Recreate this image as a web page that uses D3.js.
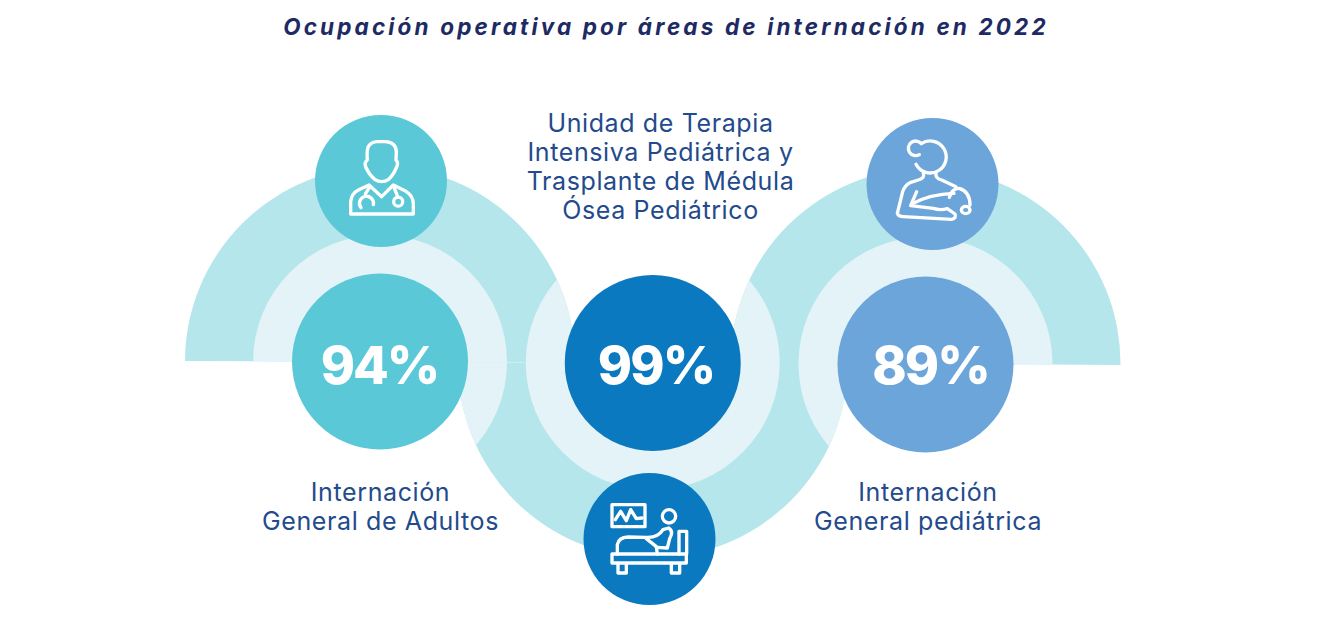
<!DOCTYPE html>
<html lang="es">
<head>
<meta charset="utf-8">
<script src="https://cdn.jsdelivr.net/npm/d3@7"></script>
<style>
    html, body { margin: 0; background: #fff; }
    svg { display: block; }
    text { font-family: Inter, "Open Sans", sans-serif; }
</style>
</head>
<body>
<div id="container"></div>
<script>
const titleText = "Ocupación operativa por áreas de internación en 2022";
const areas = ["adultos", "pediatricaUti", "pediatrica"];
const occupancy = [94, 99, 89];
const labelLines = [
    ["Internación", "General de Adultos"],
    ["Unidad de Terapia", "Intensiva Pediátrica y", "Trasplante de Médula", "Ósea Pediátrico"],
    ["Internación", "General pediátrica"]
];
const areaColors = ["#5bc8d8", "#0b79bf", "#6ba5da"];

const w = 1332;
const h = 630;
const discR = 88;
const iconR = 66;
const paleR = 127;
const bandR = 195;
const tilt = 0.3 * Math.PI / 180; // the side bands sit very slightly rotated

const xScale = d3.scalePoint().domain(areas).range([380, 925.5]);
const yScale = d3.scaleOrdinal().domain(areas).range([361.5, 363, 364.5]);
const bandY = d3.scaleOrdinal().domain(areas).range([361.9, 362.8, 363.9]);
const iconX = d3.scaleOrdinal().domain(areas).range([381, 649.5, 932.5]);
const iconY = d3.scaleOrdinal().domain(areas).range([181, 539, 184]);
const labelX = d3.scaleOrdinal().domain(areas).range([380.5, 660.5, 928]);
const labelY = d3.scaleOrdinal().domain(areas).range([501, 132, 500.5]);
const valueX = d3.scaleOrdinal().domain(areas).range([379.5, 656, 930.5]);
const colorScale = d3.scaleOrdinal().domain(areas).range(areaColors);

// icons are traced at 3x around the disc centre
const icons = {
    adultos: {cx: 213, cy: 213, paths: [
        "M174 112Q182 95 202 95L226 95Q258 97 259 125L258 150Q266 158 260 171Q250 195 236 208Q215 222 194 208Q176 192 167 171Q162 158 172 150Q170 125 174 112Z",
        "M177 225L215 260L250 225L288 244Q310 258 310 282L310 312L122 312L122 275Q125 250 145 240Z",
        "M178 232L166 252M153 293A21 21 0 1 1 190 284",
        "M252 232L264 262M278 275A13.5 13.5 0 1 1 251 275A13.5 13.5 0 1 1 278 275Z"
    ]},
    pediatricaUti: {cx: 214.5, cy: 213, paths: [
        "M102 110H201V176H102Z",
        "M112 155L128 130L145 158L158 125L175 152L192 150",
        "M293 145A20 20 0 1 1 253 145A20 20 0 1 1 293 145Z",
        "M102 258H325V285H102Z",
        "M120 287V315H145V287M280 287V315H305V287",
        "M303 258V190H326V258",
        "M118 258V230Q122 208 150 207L205 208Q240 210 255 185L272 180Q288 190 275 212L268 240L235 238L238 258",
        "M205 212L235 236"
    ]},
    pediatrica: {cx: 217.5, cy: 222, paths: [
        "M178 134A22 22 0 1 1 184 101A48 48 0 1 1 168 163",
        "M190 190Q195 205 175 210L150 218Q135 225 128 245L112 310Q115 320 130 320L275 328Q290 325 285 312L262 296Q240 302 220 295L152 287L170 245",
        "M228 190Q225 205 245 210L288 230",
        "M155 282Q210 252 282 250",
        "M268 262Q275 235 298 235Q330 245 330 285",
        "M330 300A13 11 0 1 1 304 300A13 11 0 1 1 330 300Z"
    ]}
};

const svg = d3.select("#container")
    .append("svg")
    .attr("width", w)
    .attr("height", h);

const halfBand = d3.arc().innerRadius(0).outerRadius(bandR);
const pathFor = (a, i) => halfBand({
    startAngle: i == 1 ? Math.PI / 2 : -Math.PI / 2 + tilt,
    endAngle: i == 1 ? Math.PI * 1.5 : Math.PI / 2 + tilt
});

svg.append("defs")
    .append("clipPath")
    .attr("id", "bands")
    .selectAll("path")
    .data(areas)
    .enter()
    .append("path")
    .attr("d", pathFor)
    .attr("transform", (a) => "translate(" + xScale(a) + "," + bandY(a) + ")");

svg.append("g")
    .selectAll("path")
    .data(areas)
    .enter()
    .append("path")
    .attr("d", pathFor)
    .attr("transform", (a) => "translate(" + xScale(a) + "," + bandY(a) + ")")
    .attr("fill", "#b5e6eb");

// the pale rings also show where they cross a neighbour's band
svg.append("g")
    .attr("clip-path", "url(#bands)")
    .selectAll("circle")
    .data(areas)
    .enter()
    .append("circle")
    .attr("cx", (a) => xScale(a))
    .attr("cy", (a) => bandY(a))
    .attr("r", paleR)
    .attr("fill", "#e3f3f7");

svg.append("g")
    .selectAll("circle")
    .data(areas)
    .enter()
    .append("circle")
    .attr("cx", (a) => xScale(a))
    .attr("cy", (a) => yScale(a))
    .attr("r", discR)
    .attr("fill", (a) => colorScale(a));

const iconGroups = svg.append("g")
    .selectAll("g")
    .data(areas)
    .enter()
    .append("g");

iconGroups.append("circle")
    .attr("cx", (a) => iconX(a))
    .attr("cy", (a) => iconY(a))
    .attr("r", iconR)
    .attr("fill", (a) => colorScale(a));

iconGroups.append("g")
    .attr("transform", (a) => "translate(" + (iconX(a) - icons[a].cx / 3) + "," + (iconY(a) - icons[a].cy / 3) + ") scale(" + (1 / 3) + ")")
    .attr("fill", "none")
    .attr("stroke", "#fff")
    .attr("stroke-width", 10)
    .attr("stroke-linecap", "round")
    .attr("stroke-linejoin", "round")
    .selectAll("path")
    .data((a) => icons[a].paths)
    .enter()
    .append("path")
    .attr("d", (d) => d);

svg.append("g")
    .selectAll("text")
    .data(areas)
    .enter()
    .append("text")
    .attr("x", (a) => valueX(a))
    .attr("y", 384)
    .attr("text-anchor", "middle")
    .attr("fill", "#fff")
    .attr("font-size", 52)
    .attr("font-weight", 800)
    .attr("letter-spacing", -2)
    .text((a, i) => occupancy[i] + "%");

const labels = svg.append("g")
    .selectAll("text")
    .data(areas)
    .enter()
    .append("text")
    .attr("text-anchor", "middle")
    .attr("fill", "#234a8c")
    .attr("font-size", 25)
    .attr("font-weight", 400)
    .attr("letter-spacing", 0.62);

labels.selectAll("tspan")
    .data((a, i) => labelLines[i].map((line) => ({a: a, line: line})))
    .enter()
    .append("tspan")
    .attr("x", (d) => labelX(d.a))
    .attr("y", (d, i) => labelY(d.a) + i * 29)
    .text((d) => d.line);

svg.append("text")
    .attr("x", 666)
    .attr("y", 35)
    .attr("text-anchor", "middle")
    .attr("fill", "#1e2a63")
    .attr("font-size", 22.5)
    .attr("font-weight", 700)
    .attr("font-style", "italic")
    .attr("letter-spacing", 3.15)
    .text(titleText);
</script>
</body>
</html>
